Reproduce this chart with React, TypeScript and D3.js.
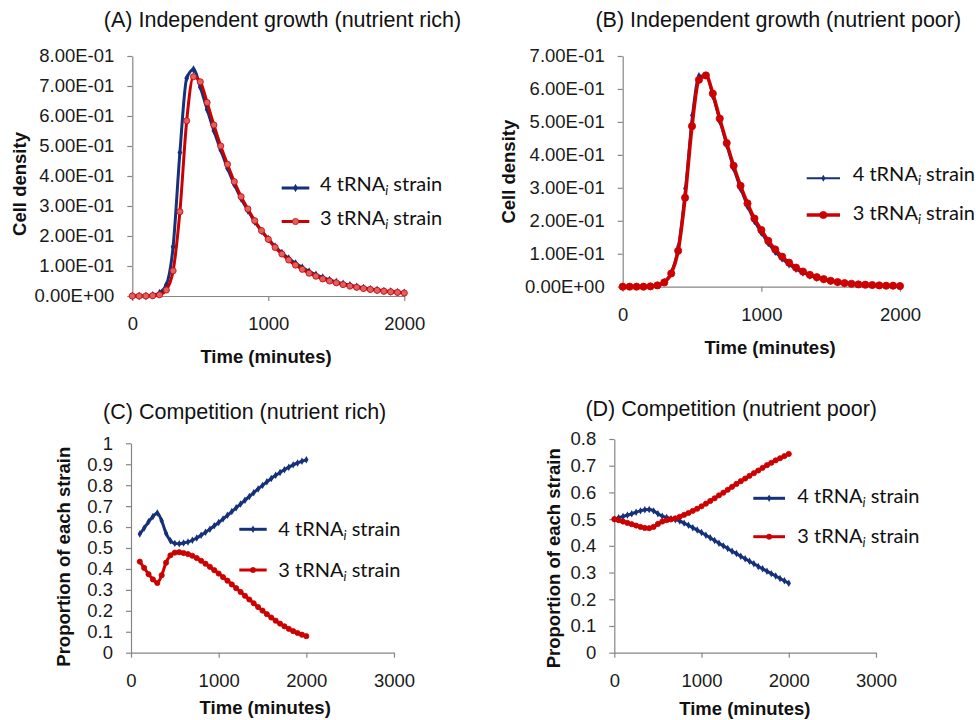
import React, { useEffect, useRef } from 'react';
import * as d3 from 'd3';

const BLUE = '#15317a';
const RED = '#cc0000';
const GRAY = '#868686';
const SANS = '"Liberation Sans", Arial, sans-serif';
const LEGEND_FONT = 'Lato, "Open Sans", sans-serif';

// time points (minutes)
const timeGrowth = [0, 50, 100, 150, 200, 250, 300, 350, 400, 450, 500, 550, 600, 650, 700, 750, 800, 850, 900, 950, 1000,
  1050, 1100, 1150, 1200, 1250, 1300, 1350, 1400, 1450, 1500, 1550, 1600, 1650, 1700, 1750, 1800, 1850, 1900, 1950, 2000];
const timeCompRich = [100, 150, 200, 250, 300, 350, 400, 450, 500, 550, 600, 650, 700, 750, 800, 850, 900, 950, 1000,
  1050, 1100, 1150, 1200, 1250, 1300, 1350, 1400, 1450, 1500, 1550, 1600, 1650, 1700, 1750, 1800, 1850, 1900, 1950, 2000];
const timeCompPoor = timeGrowth;

// (A) independent growth, nutrient rich
const richGrowth4 = [0, 0, 0, 0.003, 0.01, 0.037, 0.164, 0.478, 0.726, 0.755, 0.696, 0.622, 0.551, 0.487, 0.426, 0.372,
  0.325, 0.285, 0.248, 0.217, 0.19, 0.165, 0.144, 0.125, 0.109, 0.095, 0.082, 0.071, 0.062, 0.054, 0.047, 0.041,
  0.036, 0.031, 0.027, 0.023, 0.02, 0.017, 0.015, 0.013, 0.011];
const richGrowth3 = [0, 0, 0, 0.001, 0.004, 0.02, 0.084, 0.281, 0.584, 0.731, 0.714, 0.645, 0.57, 0.5, 0.439, 0.381,
  0.331, 0.29, 0.251, 0.218, 0.189, 0.162, 0.14, 0.12, 0.103, 0.089, 0.076, 0.066, 0.057, 0.05, 0.044, 0.038,
  0.033, 0.029, 0.025, 0.022, 0.019, 0.016, 0.014, 0.012, 0.01];

// (B) independent growth, nutrient poor
const poorGrowth4 = [0, 0, 0, 0, 0.001, 0.005, 0.016, 0.045, 0.123, 0.298, 0.52, 0.641, 0.64, 0.576, 0.5, 0.427,
  0.356, 0.295, 0.242, 0.197, 0.162, 0.13, 0.104, 0.083, 0.066, 0.052, 0.041, 0.032, 0.025, 0.02, 0.016, 0.012,
  0.01, 0.008, 0.006, 0.005, 0.004, 0.003, 0.003, 0.002, 0.002];
const poorGrowth3 = [0, 0, 0, 0, 0.001, 0.004, 0.013, 0.04, 0.109, 0.27, 0.487, 0.628, 0.641, 0.586, 0.51, 0.436,
  0.367, 0.306, 0.253, 0.207, 0.172, 0.139, 0.113, 0.091, 0.073, 0.058, 0.046, 0.036, 0.029, 0.023, 0.018, 0.014,
  0.011, 0.009, 0.007, 0.006, 0.005, 0.004, 0.003, 0.003, 0.002];

// (C) competition, nutrient rich
const richComp4 = [0.567, 0.595, 0.625, 0.65, 0.667, 0.63, 0.57, 0.535, 0.522, 0.52, 0.524, 0.529, 0.537, 0.548,
  0.561, 0.575, 0.59, 0.606, 0.622, 0.639, 0.656, 0.674, 0.692, 0.71, 0.728, 0.746, 0.764, 0.782, 0.799, 0.816,
  0.832, 0.847, 0.861, 0.874, 0.886, 0.897, 0.906, 0.914, 0.921];
const richComp3 = [0.435, 0.405, 0.375, 0.35, 0.333, 0.37, 0.43, 0.465, 0.478, 0.48, 0.476, 0.471, 0.463, 0.452,
  0.439, 0.425, 0.41, 0.394, 0.378, 0.361, 0.344, 0.326, 0.308, 0.29, 0.272, 0.254, 0.236, 0.218, 0.201, 0.184,
  0.168, 0.153, 0.139, 0.126, 0.114, 0.103, 0.094, 0.086, 0.079];

// (D) competition, nutrient poor
const poorComp4 = [0.5, 0.505, 0.51, 0.515, 0.52, 0.526, 0.531, 0.535, 0.536, 0.531, 0.52, 0.511, 0.506, 0.502,
  0.498, 0.493, 0.485, 0.477, 0.468, 0.459, 0.45, 0.44, 0.43, 0.42, 0.41, 0.4, 0.39, 0.38, 0.371, 0.361, 0.352,
  0.342, 0.333, 0.323, 0.314, 0.305, 0.296, 0.287, 0.278, 0.269, 0.26];
const poorComp3 = [0.5, 0.496, 0.491, 0.486, 0.481, 0.476, 0.471, 0.467, 0.466, 0.471, 0.482, 0.491, 0.496, 0.499,
  0.503, 0.509, 0.516, 0.523, 0.531, 0.539, 0.548, 0.558, 0.568, 0.578, 0.589, 0.599, 0.61, 0.621, 0.632, 0.642,
  0.652, 0.662, 0.672, 0.682, 0.692, 0.702, 0.711, 0.72, 0.728, 0.736, 0.744];

const densityTicks8 = [0, 0.1, 0.2, 0.3, 0.4, 0.5, 0.6, 0.7, 0.8];
const densityTicks7 = [0, 0.1, 0.2, 0.3, 0.4, 0.5, 0.6, 0.7];
const propTicks10 = [0, 0.1, 0.2, 0.3, 0.4, 0.5, 0.6, 0.7, 0.8, 0.9, 1];
const timeTicks2 = [0, 1000, 2000];
const timeTicks3 = [0, 1000, 2000, 3000];

const sci = (v: number) => {
  if (v === 0) return '0.00E+00';
  const [m, e] = v.toExponential(2).split('e');
  const n = parseInt(e, 10);
  return `${m}E${n < 0 ? '-' : '+'}${String(Math.abs(n)).padStart(2, '0')}`;
};
const plain = (v: number) => String(v);

const panels = [
  {
    title: '(A) Independent growth (nutrient rich)', titleX: 282.5, titleY: 26.5,
    yLabel: 'Cell density', yLabelX: 26, yLabelY: 184, xLabelX: 266, xLabelY: 362.5,
    left: 132.3, right: 404.3, top: 56, bottom: 296,
    xDomain: [0, 2000], xTicks: timeTicks2, yDomain: [0, 0.8], yTicks: densityTicks8, fmt: sci,
    t4: timeGrowth, s4: richGrowth4, t3: timeGrowth, s3: richGrowth3,
    w4: 3, w3: 3, m3: { r: 3.1, fill: '#e06060' }, d4: 20,
    legX: [281.7, 309.3], legTextX: 320, leg4: [188, 190.5], leg3: [221.5, 224.5],
  },
  {
    title: '(B) Independent growth (nutrient poor)', titleX: 778.3, titleY: 26.5,
    yLabel: 'Cell density', yLabelX: 515, yLabelY: 171.7, xLabelX: 770, xLabelY: 354,
    left: 622.7, right: 900, top: 56, bottom: 286.7,
    xDomain: [0, 2000], xTicks: timeTicks2, yDomain: [0, 0.7], yTicks: densityTicks7, fmt: sci,
    t4: timeGrowth, s4: poorGrowth4, t3: timeGrowth, s3: poorGrowth3,
    w4: 2, w3: 3.5, m3: { r: 3.6, fill: RED }, d4: 14,
    legX: [806.7, 840], legTextX: 852.7, leg4: [178.3, 180.5], leg3: [215, 220],
  },
  {
    title: '(C) Competition (nutrient rich)', titleX: 244.7, titleY: 419.3,
    yLabel: 'Proportion of each strain', yLabelX: 69.5, yLabelY: 556.7, xLabelX: 265.2, xLabelY: 714,
    left: 131, right: 394, top: 443.3, bottom: 652.7,
    xDomain: [0, 3000], xTicks: timeTicks3, yDomain: [0, 1], yTicks: propTicks10, fmt: plain,
    t4: timeCompRich, s4: richComp4, t3: timeCompRich, s3: richComp3,
    w4: 3, w3: 3, m3: { r: 2.6, fill: RED }, d4: 16,
    legX: [239.3, 266.7], legTextX: 278.3, leg4: [529.3, 535.7], leg3: [570, 576.7],
  },
  {
    title: '(D) Competition (nutrient poor)', titleX: 731.2, titleY: 416,
    yLabel: 'Proportion of each strain', yLabelX: 560, yLabelY: 558.3, xLabelX: 744.8, xLabelY: 715,
    left: 614.3, right: 876, top: 439, bottom: 652.7,
    xDomain: [0, 3000], xTicks: timeTicks3, yDomain: [0, 0.8], yTicks: densityTicks8, fmt: plain,
    t4: timeCompPoor, s4: poorComp4, t3: timeCompPoor, s3: poorComp3,
    w4: 3, w3: 3, m3: { r: 2.6, fill: RED }, d4: 16,
    legX: [753.3, 785], legTextX: 797.3, leg4: [498.3, 502.7], leg3: [536.7, 543.3],
  },
];

const App = () => {
  const svgRef = useRef<SVGSVGElement>(null);

  useEffect(() => {
    const svg = d3.select(svgRef.current);
    svg.selectAll('*').remove();

    panels.forEach((p) => {
      const g = svg.append('g');
      const x = d3.scaleLinear().domain(p.xDomain).range([p.left, p.right]);
      const y = d3.scaleLinear().domain(p.yDomain).range([p.bottom, p.top]);

      // axes
      const xAxis = g.append('g')
        .attr('transform', `translate(0,${p.bottom})`)
        .call(d3.axisBottom(x).tickValues(p.xTicks).tickSize(5).tickSizeOuter(0).tickPadding(16).tickFormat((d) => String(d)));
      const yAxis = g.append('g')
        .attr('transform', `translate(${p.left},0)`)
        .call(d3.axisLeft(y).tickValues(p.yTicks).tickSize(5).tickSizeOuter(0).tickPadding(13).tickFormat((d) => p.fmt(+d)));
      [xAxis, yAxis].forEach((a) => {
        a.select('.domain').attr('stroke', GRAY).attr('stroke-width', 1.2);
        a.selectAll('.tick line').attr('stroke', GRAY).attr('stroke-width', 1.2);
        a.selectAll('.tick text').attr('fill', '#1a1a1a').style('font-family', SANS).style('font-size', '18.5px');
      });

      // titles
      g.append('text').attr('x', p.titleX).attr('y', p.titleY).attr('text-anchor', 'middle')
        .style('font-family', SANS).style('font-size', '21.5px').attr('fill', '#111').text(p.title);
      g.append('text').attr('x', p.xLabelX).attr('y', p.xLabelY).attr('text-anchor', 'middle')
        .style('font-family', SANS).style('font-size', '18.5px').style('font-weight', 'bold').attr('fill', '#111')
        .text('Time (minutes)');
      g.append('text').attr('transform', `translate(${p.yLabelX},${p.yLabelY}) rotate(-90)`).attr('text-anchor', 'middle')
        .style('font-family', SANS).style('font-size', '18.5px').style('font-weight', 'bold').attr('fill', '#111')
        .text(p.yLabel);

      const line = d3.line<[number, number]>().x((d) => x(d[0])).y((d) => y(d[1])).curve(d3.curveMonotoneX);
      const pts4 = p.t4.map((t, i) => [t, p.s4[i]] as [number, number]);
      const pts3 = p.t3.map((t, i) => [t, p.s3[i]] as [number, number]);
      const diamond = d3.symbol().type(d3.symbolDiamond).size(p.d4);

      // 4 tRNAi strain
      g.append('path').attr('d', line(pts4)).attr('fill', 'none').attr('stroke', BLUE).attr('stroke-width', p.w4);
      g.selectAll('.m4').data(pts4).join('path').attr('class', 'm4')
        .attr('transform', (d) => `translate(${x(d[0])},${y(d[1])})`).attr('d', diamond()).attr('fill', BLUE);

      // 3 tRNAi strain
      g.append('path').attr('d', line(pts3)).attr('fill', 'none').attr('stroke', RED).attr('stroke-width', p.w3);
      g.selectAll('.m3').data(pts3).join('circle').attr('class', 'm3')
        .attr('cx', (d) => x(d[0])).attr('cy', (d) => y(d[1])).attr('r', p.m3.r)
        .attr('fill', p.m3.fill).attr('stroke', RED).attr('stroke-width', 0.8);

      // legend
      const rows = [
        { label: '4', color: BLUE, w: p.w4, ly: p.leg4[0], ty: p.leg4[1], circle: false },
        { label: '3', color: RED, w: p.w3, ly: p.leg3[0], ty: p.leg3[1], circle: true },
      ];
      rows.forEach((r) => {
        const mx = (p.legX[0] + p.legX[1]) / 2;
        g.append('line').attr('x1', p.legX[0]).attr('x2', p.legX[1]).attr('y1', r.ly).attr('y2', r.ly)
          .attr('stroke', r.color).attr('stroke-width', r.w);
        if (r.circle) {
          g.append('circle').attr('cx', mx).attr('cy', r.ly).attr('r', p.m3.r)
            .attr('fill', p.m3.fill).attr('stroke', RED).attr('stroke-width', 0.8);
        } else {
          g.append('path').attr('transform', `translate(${mx},${r.ly})`).attr('d', diamond()).attr('fill', BLUE);
        }
        const t = g.append('text').attr('x', p.legTextX).attr('y', r.ty)
          .style('font-family', LEGEND_FONT).style('font-size', '20px').attr('fill', '#111');
        t.append('tspan').text(`${r.label} tRNA`);
        t.append('tspan').attr('dy', 4).style('font-style', 'italic').style('font-size', '13px').text('i');
        t.append('tspan').attr('dy', -4).text(' strain');
      });
    });
  }, []);

  return (
    <svg ref={svgRef} width={976} height={720}
      style={{ position: 'absolute', left: 0, top: 0, background: '#fff' }} />
  );
};

export default App;
